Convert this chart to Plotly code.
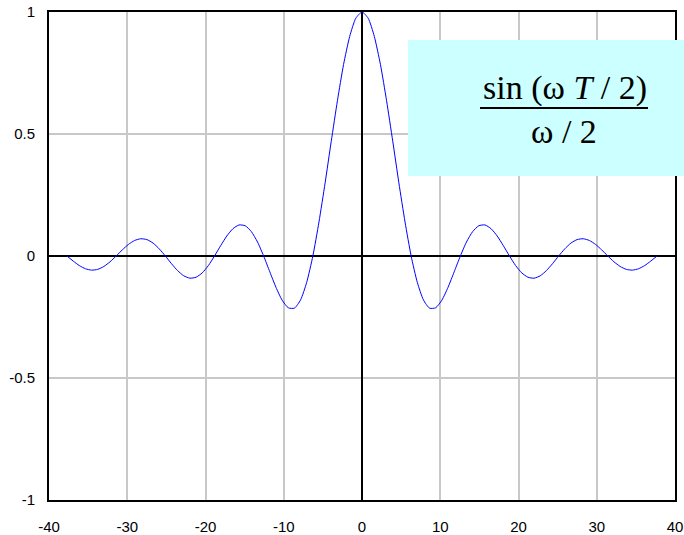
import plotly.graph_objects as go

# Curve samples at steps of pi/4 in omega (T = 1), from -12*pi to 12*pi
omega = [-37.70, -36.91, -36.13, -35.34, -34.56, -33.77, -32.99, -32.20,
         -31.42, -30.63, -29.85, -29.06, -28.27, -27.49, -26.70, -25.92,
         -25.13, -24.35, -23.56, -22.78, -21.99, -21.21, -20.42, -19.63,
         -18.85, -18.06, -17.28, -16.49, -15.71, -14.92, -14.14, -13.35,
         -12.57, -11.78, -10.99, -10.21, -9.42, -8.64, -7.85, -7.07,
         -6.28, -5.50, -4.71, -3.93, -3.14, -2.36, -1.57, -0.79,
         0.00,
         0.79, 1.57, 2.36, 3.14, 3.93, 4.71, 5.50, 6.28,
         7.07, 7.85, 8.64, 9.42, 10.21, 10.99, 11.78, 12.57,
         13.35, 14.14, 14.92, 15.71, 16.49, 17.28, 18.06, 18.85,
         19.63, 20.42, 21.21, 21.99, 22.78, 23.56, 24.35, 25.13,
         25.92, 26.70, 27.49, 28.27, 29.06, 29.85, 30.63, 31.42,
         32.20, 32.99, 33.77, 34.56, 35.34, 36.13, 36.91, 37.70]
response = [0.0, -0.0207, -0.0391, -0.0523, -0.0579, -0.0547, -0.0429, -0.0238,
            0.0, 0.0250, 0.0474, 0.0636, 0.0707, 0.0672, 0.0530, 0.0295,
            0.0, -0.0314, -0.0600, -0.0811, -0.0909, -0.0871, -0.0693, -0.0390,
            0.0, 0.0424, 0.0818, 0.1120, 0.1273, 0.1238, 0.1000, 0.0573,
            0.0, -0.0650, -0.1286, -0.1810, -0.2122, -0.2139, -0.1801, -0.1083,
            0.0, 0.1392, 0.3001, 0.4705, 0.6366, 0.7842, 0.9003, 0.9745,
            1.0,
            0.9745, 0.9003, 0.7842, 0.6366, 0.4705, 0.3001, 0.1392, 0.0,
            -0.1083, -0.1801, -0.2139, -0.2122, -0.1810, -0.1286, -0.0650, 0.0,
            0.0573, 0.1000, 0.1238, 0.1273, 0.1120, 0.0818, 0.0424, 0.0,
            -0.0390, -0.0693, -0.0871, -0.0909, -0.0811, -0.0600, -0.0314, 0.0,
            0.0295, 0.0530, 0.0672, 0.0707, 0.0636, 0.0474, 0.0250, 0.0,
            -0.0238, -0.0429, -0.0547, -0.0579, -0.0523, -0.0391, -0.0207, 0.0]

x_ticks = [-40, -30, -20, -10, 0, 10, 20, 30, 40]
x_tick_labels = ["-40", "-30", "-20", "-10", "0", "10", "20", "30", "40"]
y_ticks = [-1, -0.5, 0, 0.5, 1]
y_tick_labels = ["-1", "-0.5", "0", "0.5", "1"]

fig = go.Figure()
fig.add_trace(go.Scatter(
    x=omega, y=response, mode="lines",
    line=dict(color="#0000ff", width=1, shape="spline", smoothing=0.6),
    hoverinfo="skip", showlegend=False,
))

axis_common = dict(
    showgrid=True, gridcolor="#c8c8c8", gridwidth=1.5,
    zeroline=True, zerolinecolor="black", zerolinewidth=2,
    showline=True, linecolor="black", linewidth=2, mirror=True,
    ticks="", automargin=False,
    tickfont=dict(family="Liberation Sans, Arial", size=15, color="black"),
)

fig.update_xaxes(range=[-40, 40], tickvals=x_ticks, ticktext=x_tick_labels,
                 ticklabelstandoff=12, **axis_common)
fig.update_yaxes(range=[-1, 1], tickvals=y_ticks, ticktext=y_tick_labels,
                 ticklabelstandoff=9, **axis_common)

# Formula box
fig.add_shape(type="rect", xref="paper", yref="paper",
              x0=(408 - 49) / 626, x1=(684 - 49) / 626,
              y0=(500 - 176) / 488, y1=(500 - 40) / 488,
              fillcolor="#ccffff", line=dict(width=0), layer="above")
fig.add_shape(type="line", xref="paper", yref="paper",
              x0=(480 - 49) / 626, x1=(648 - 49) / 626,
              y0=(500 - 108) / 488, y1=(500 - 108) / 488,
              line=dict(color="black", width=2), layer="above")

serif = dict(family="Liberation Serif, Times New Roman, serif", size=34, color="black")
fig.add_annotation(xref="paper", yref="paper",
                   x=(565 - 49) / 626, y=(500 - 88) / 488,
                   text="sin (ω <i>T</i> / 2)", showarrow=False, font=serif,
                   xanchor="center", yanchor="middle")
fig.add_annotation(xref="paper", yref="paper",
                   x=(564 - 49) / 626, y=(500 - 131) / 488,
                   text="ω / 2", showarrow=False, font=serif,
                   xanchor="center", yanchor="middle")

fig.update_layout(
    width=684, height=535,
    margin=dict(l=49, r=9, t=12, b=35),
    paper_bgcolor="white", plot_bgcolor="white",
)

fig.write_html("out.html")
